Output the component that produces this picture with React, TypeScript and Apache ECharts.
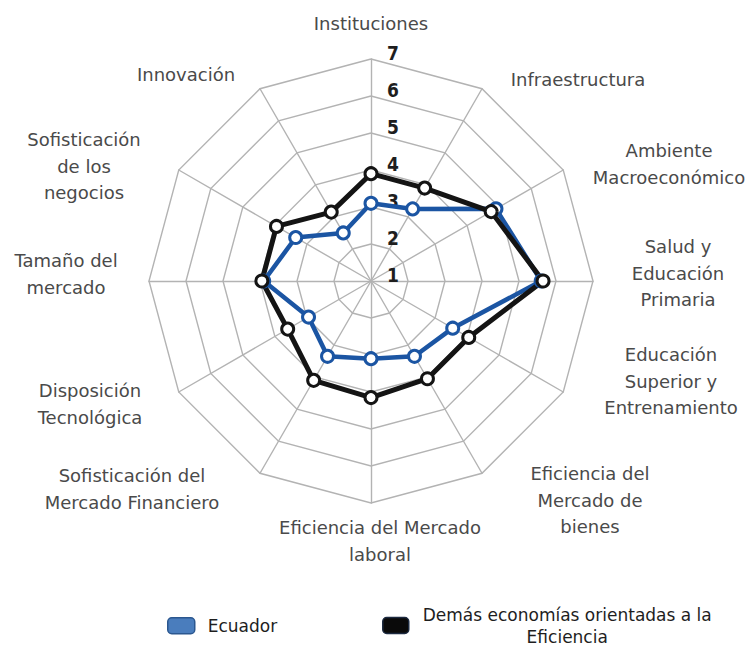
import React, { useEffect, useRef } from 'react';
import * as echarts from 'echarts';

// Categories listed clockwise from the top, as in the reference
const categories = [
  'Instituciones',
  'Infraestructura',
  'Ambiente\nMacroeconómico',
  'Salud y\nEducación\nPrimaria',
  'Educación\nSuperior y\nEntrenamiento',
  'Eficiencia del\nMercado de\nbienes',
  'Eficiencia del Mercado\nlaboral',
  'Sofisticación del\nMercado Financiero',
  'Disposición\nTecnológica',
  'Tamaño del\nmercado',
  'Sofisticación\nde los\nnegocios',
  'Innovación',
];
const ecuador = [3.1, 3.25, 4.9, 5.6, 3.55, 3.35, 3.1, 3.35, 2.95, 3.9, 3.35, 2.5];
const otras = [3.9, 3.9, 4.75, 5.65, 4.05, 4.05, 4.15, 4.1, 3.6, 3.95, 3.95, 3.15];
const radialTicks = [1, 2, 3, 4, 5, 6, 7];
const seriesNames = ['Ecuador', 'Demás economías orientadas a la\nEficiencia'];

// layout of the category names (centre x, centre y)
const labelPos: [number, number][] = [
  [371, 23],
  [578, 79],
  [669, 164],
  [678, 273],
  [671, 381],
  [590, 500],
  [380, 541],
  [132, 489],
  [90, 404],
  [66, 274],
  [84, 166],
  [186, 74],
];

const BLUE = '#1b55a3';
const BLACK = '#141414';
const GRID = '#b3b3b3';
const LABEL_FONT = '"DejaVu Sans", "Liberation Sans", sans-serif';

// ECharts lays radar indicators out counter-clockwise; reorder so the picture reads clockwise
const order = [0, ...Array.from({ length: categories.length - 1 }, (_, i) => categories.length - 1 - i)];
const reorder = (arr: number[]) => order.map((i) => arr[i]);

export default function App() {
  const ref = useRef<HTMLDivElement>(null);
  useEffect(() => {
    if (!ref.current) return;
    const chart = echarts.init(ref.current, undefined, { renderer: 'svg' });
    const cx = 371;
    const cy = 281;
    const R = 222;
    chart.setOption({
      animation: false,
      backgroundColor: '#fff',
      radar: {
        center: [cx, cy],
        radius: R,
        startAngle: 90,
        shape: 'polygon',
        splitNumber: radialTicks.length - 1,
        indicator: order.map((i) => ({
          name: categories[i],
          min: radialTicks[0],
          max: radialTicks[radialTicks.length - 1],
        })),
        axisName: { show: false },
        axisLine: { lineStyle: { color: GRID, width: 1.4 } },
        splitLine: { lineStyle: { color: GRID, width: 1.4 } },
        splitArea: { show: false },
        axisTick: { show: false },
        axisLabel: { show: false },
      },
      grid: { left: cx, top: cy - R, width: 1, height: R },
      xAxis: { type: 'value', show: false, min: 0, max: 1 },
      yAxis: {
        type: 'value',
        position: 'right',
        min: radialTicks[0],
        max: radialTicks[radialTicks.length - 1],
        interval: 1,
        axisLine: { show: false },
        axisTick: { show: false },
        splitLine: { show: false },
        axisLabel: {
          show: true,
          margin: 15,
          color: '#1e1e1e',
          fontSize: 19,
          fontWeight: 'bold',
          fontFamily: '"Liberation Sans Narrow", "DejaVu Sans Condensed", "Liberation Sans", sans-serif',
          verticalAlign: 'bottom',
          lineHeight: 12,
        },
      },
      legend: [
        {
          data: [
            {
              name: seriesNames[0],
              icon: 'roundRect',
              itemStyle: { color: '#4a7dbd', borderColor: '#2b578f', borderWidth: 1.5 },
            },
          ],
          left: 167,
          top: 617,
          padding: 0,
          itemWidth: 27,
          itemHeight: 16,
          selectedMode: false,
          textStyle: {
            fontFamily: LABEL_FONT,
            fontSize: 17,
            color: '#1e1e1e',
            padding: [0, 0, 0, 8],
          },
        },
        {
          data: [
            {
              name: seriesNames[1],
              icon: 'roundRect',
              itemStyle: { color: '#0a0a0a', borderColor: '#1c2a40', borderWidth: 1.5 },
            },
          ],
          left: 382,
          top: 606,
          padding: 0,
          itemWidth: 26,
          itemHeight: 16,
          selectedMode: false,
          formatter: (name: string) =>
            name
              .split('\n')
              .map((s) => `{a|${s}}`)
              .join('\n'),
          textStyle: {
            padding: [0, 0, 0, 9],
            rich: {
              a: {
                align: 'center',
                fontFamily: LABEL_FONT,
                fontSize: 17,
                lineHeight: 22,
                color: '#1e1e1e',
              },
            },
          },
        },
      ],
      graphic: categories.map((c, i) => ({
        type: 'text',
        x: labelPos[i][0],
        y: labelPos[i][1],
        silent: true,
        style: {
          text: c,
          align: 'center',
          verticalAlign: 'middle',
          fontFamily: LABEL_FONT,
          fontSize: 18,
          lineHeight: 26.5,
          fill: '#4a4a4a',
        },
      })),
      series: [
        {
          type: 'radar',
          emphasis: { disabled: true },
          data: [
            {
              name: seriesNames[0],
              value: reorder(ecuador),
              symbol: 'circle',
              symbolSize: 12,
              lineStyle: { color: BLUE, width: 4.5 },
              itemStyle: { color: '#ffffff', borderColor: BLUE, borderWidth: 3 },
            },
            {
              name: seriesNames[1],
              value: reorder(otras),
              symbol: 'circle',
              symbolSize: 12,
              lineStyle: { color: BLACK, width: 5 },
              itemStyle: { color: '#ffffff', borderColor: BLACK, borderWidth: 3 },
            },
          ],
        },
      ],
    });
    return () => chart.dispose();
  }, []);
  return (
    <div
      ref={ref}
      style={{ position: 'fixed', left: 0, top: 0, width: 754, height: 650, background: '#fff' }}
    />
  );
}
